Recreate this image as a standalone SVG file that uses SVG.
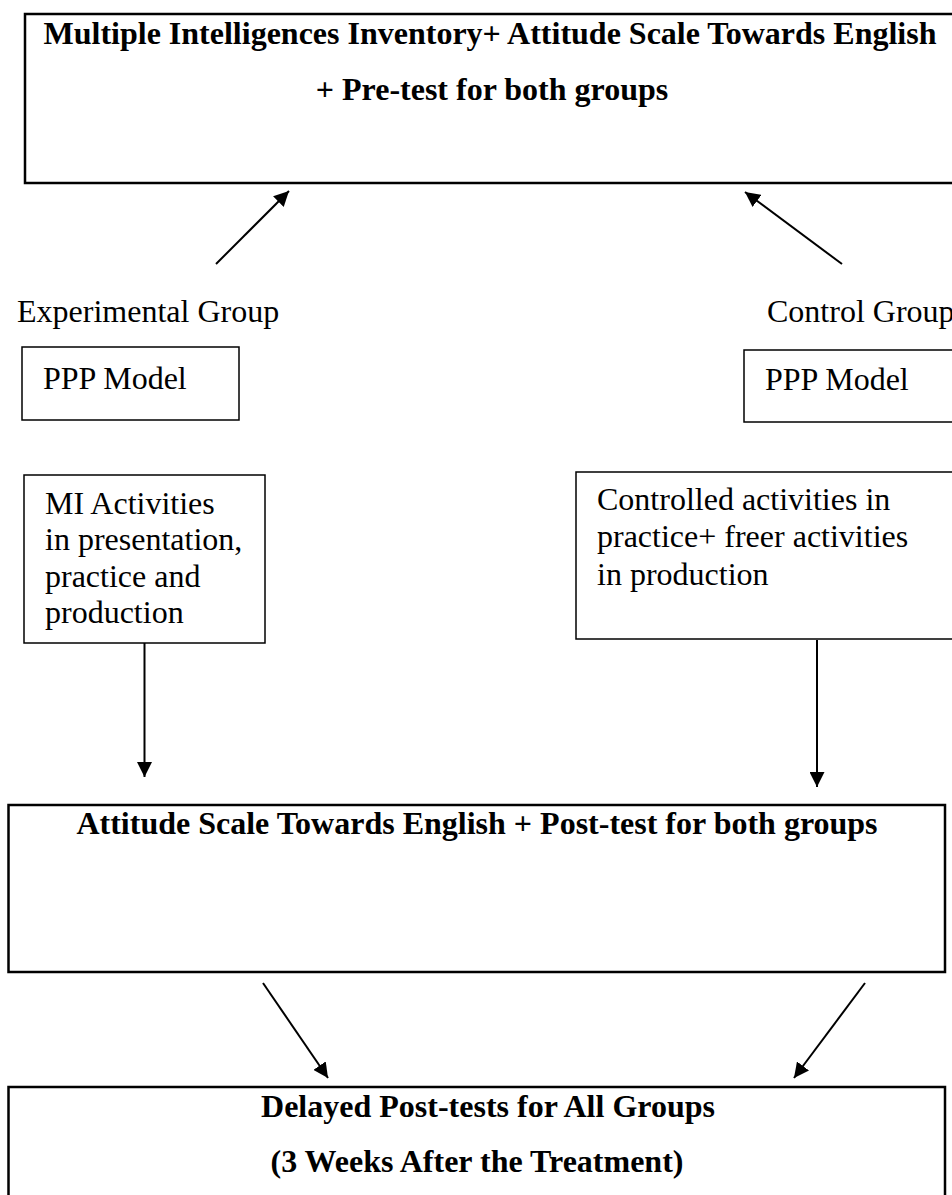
<svg xmlns="http://www.w3.org/2000/svg" width="952" height="1195" viewBox="0 0 952 1195">
<defs>
<style>
.box{fill:#fff;stroke:#000;stroke-width:2.5}
.sbox{fill:#fff;stroke:#000;stroke-width:1.5}
.b{font-family:"Liberation Serif","Times New Roman",serif;font-size:32px;font-weight:bold;fill:#000}
.r{font-family:"Liberation Serif","Times New Roman",serif;font-size:32px;fill:#000}
.c{stroke:#000;stroke-width:2;fill:none;marker-end:url(#ah)}
</style>
<marker id="ah" viewBox="0 0 10 10" refX="10" refY="5" markerWidth="7.5" markerHeight="7.5" markerUnits="strokeWidth" orient="auto">
<path d="M0,0 L10,5 L0,10 Z" fill="#000"/>
</marker>
</defs>
<rect width="952" height="1195" fill="#fff"/>
<g id="pretest">
<rect class="box" x="25" y="14" width="935" height="169"/>
<text class="b" x="490" y="44" text-anchor="middle">Multiple Intelligences Inventory+ Attitude Scale Towards English</text>
<text class="b" x="492" y="100" text-anchor="middle">+ Pre-test for both groups</text>
</g>
<g id="exp-label"><text class="r" x="17" y="322">Experimental Group</text></g>
<g id="ctrl-label"><text class="r" x="767" y="322">Control Group</text></g>
<g id="exp-ppp">
<rect class="sbox" x="22" y="347" width="217" height="73"/>
<text class="r" x="43" y="389">PPP Model</text>
</g>
<g id="ctrl-ppp">
<rect class="sbox" x="744" y="350" width="220" height="72"/>
<text class="r" x="765" y="390">PPP Model</text>
</g>
<g id="exp-mi">
<rect class="sbox" x="24" y="475" width="241" height="168"/>
<text class="r" x="45" y="514">MI Activities</text>
<text class="r" x="45" y="550">in presentation,</text>
<text class="r" x="45" y="587">practice and</text>
<text class="r" x="45" y="623">production</text>
</g>
<g id="ctrl-act">
<rect class="sbox" x="576" y="472" width="390" height="167"/>
<text class="r" x="597" y="510">Controlled activities in</text>
<text class="r" x="597" y="547">practice+ freer activities</text>
<text class="r" x="597" y="585">in production</text>
</g>
<g id="posttest">
<rect class="box" x="8.5" y="805" width="936.5" height="167"/>
<text class="b" x="477" y="834" text-anchor="middle">Attitude Scale Towards English + Post-test for both groups</text>
</g>
<g id="delayed">
<rect class="box" x="8.5" y="1087" width="936.5" height="130"/>
<text class="b" x="488" y="1117" text-anchor="middle">Delayed Post-tests for All Groups</text>
<text class="b" x="477" y="1172" text-anchor="middle">(3 Weeks After the Treatment)</text>
</g>
<g id="connectors">
<line class="c" x1="216" y1="264" x2="289" y2="191"/>
<line class="c" x1="842" y1="264" x2="745" y2="192"/>
<line class="c" x1="144.5" y1="643" x2="144.5" y2="777"/>
<line class="c" x1="817" y1="640" x2="817" y2="787"/>
<line class="c" x1="263" y1="983" x2="328" y2="1078"/>
<line class="c" x1="865" y1="983" x2="794" y2="1078"/>
</g>
</svg>
